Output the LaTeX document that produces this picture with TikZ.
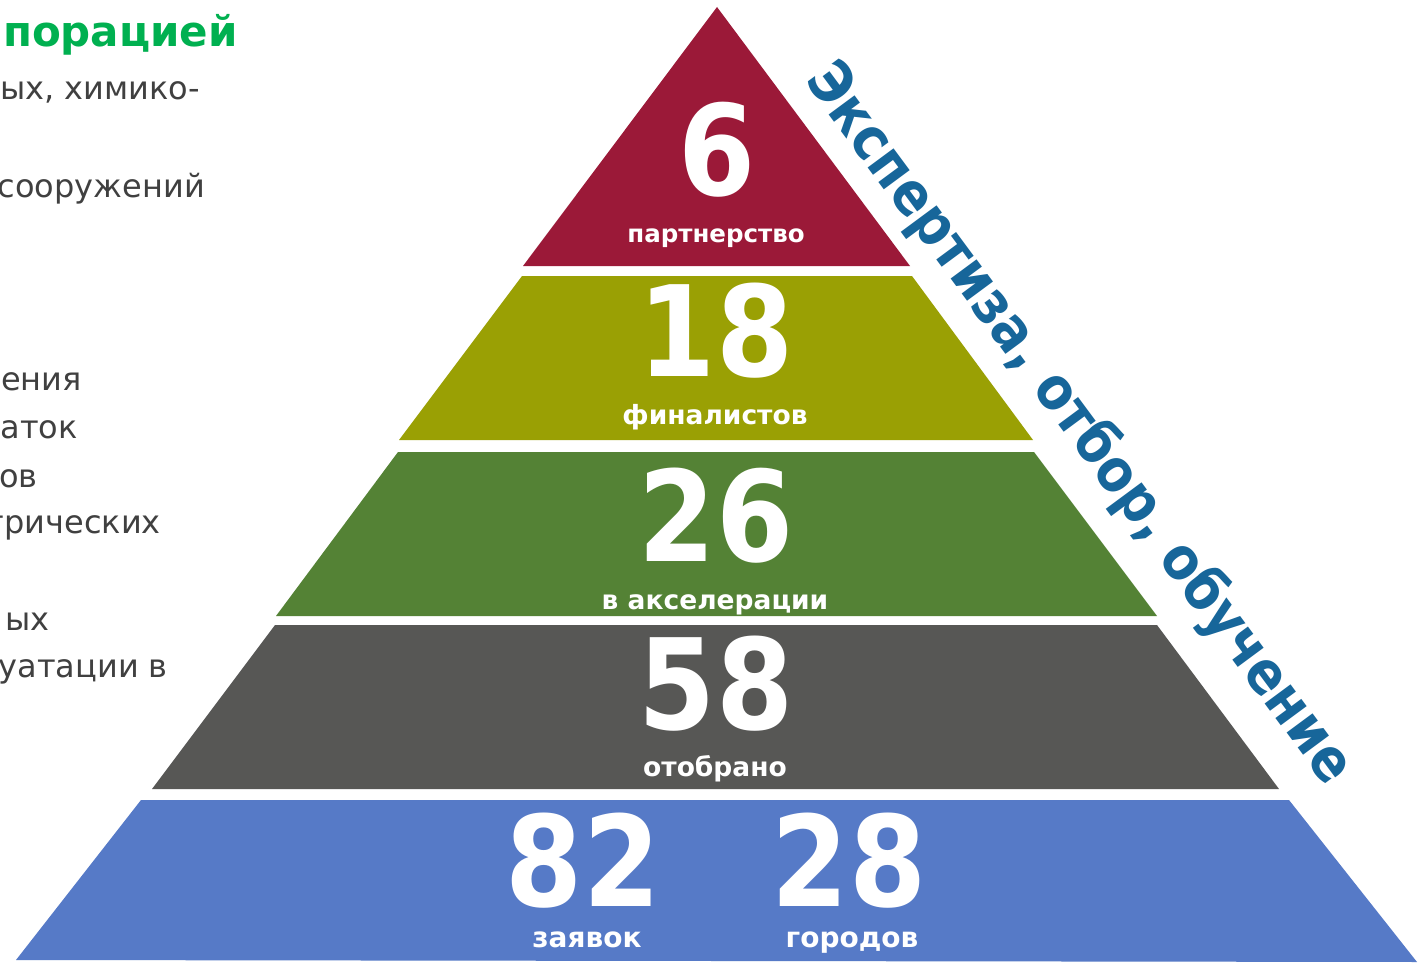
\documentclass[tikz,border=0pt]{standalone}
\usepackage{fontspec}
\setmainfont{DejaVu Sans}
\newfontfamily\narrowfont{DejaVu Sans}[FakeStretch=0.88]
\definecolor{cRed}{RGB}{155,25,56}
\definecolor{cOlive}{RGB}{154,160,4}
\definecolor{cGreen}{RGB}{84,130,53}
\definecolor{cGray}{RGB}{87,87,85}
\definecolor{cBlue}{RGB}{86,122,199}
\definecolor{cTitle}{RGB}{0,176,80}
\definecolor{cText}{RGB}{64,64,64}
\definecolor{cSide}{RGB}{23,102,154}
\tikzset{
  num/.style={anchor=base, inner sep=0pt, text=white, font=\narrowfont\bfseries\fontsize{126}{126}\selectfont},
  lab/.style={anchor=base, inner sep=0pt, text=white, font=\bfseries\fontsize{26.5}{26.5}\selectfont},
  side/.style={anchor=base east, inner sep=0pt, text=cText, font=\fontsize{32}{32}\selectfont},
}
\begin{document}
\begin{tikzpicture}[x=1pt,y=-1pt]
\clip (0,0) rectangle (1425,963);
\fill[white] (0,0) rectangle (1425,963);
% pyramid bands
\fill[cRed] (717,7) -- (910,266) -- (523,266) -- cycle;
\fill[cOlive] (522,276) -- (912,276) -- (1033,440) -- (399,440) -- cycle;
\fill[cGreen] (398,452) -- (1034,452) -- (1157,616) -- (276,616) -- cycle;
\fill[cGray] (275,625) -- (1157,625) -- (1279,789) -- (152,789) -- cycle;
\fill[cBlue] (141,800) -- (1289,800) -- (1417,962) -- (16,960) -- cycle;
% numbers and labels
\node[num] (n6) at (717,195) {6};
\node[lab, font=\bfseries\fontsize{24.5}{24.5}\selectfont] (l6) at (716,242) {партнерство};
\node[num] (n18) at (716,376) {18};
\node[lab] (l18) at (715,424) {финалистов};
\node[num] (n26) at (716,561) {26};
\node[lab] (l26) at (715,609) {в акселерации};
\node[num] (n58) at (716,729) {58};
\node[lab] (l58) at (715,776) {отобрано};
\node[num] (n82) at (583,906) {82};
\node[lab, font=\bfseries\fontsize{28}{28}\selectfont] (l82) at (587,947) {заявок};
\node[num] (n28) at (849,906) {28};
\node[lab, font=\bfseries\fontsize{28}{28}\selectfont] (l28) at (852,947) {городов};
% side label
\node[inner sep=0pt, rotate=-53.5, text=cSide, font=\narrowfont\bfseries\fontsize{59}{59}\selectfont] (sidelab) at (1079,424) {Экспертиза, отбор, обучение};
% clipped left text
\node[anchor=base east, inner sep=0pt, text=cTitle, font=\bfseries\fontsize{42}{42}\selectfont] (t0) at (238,47) {порацией};
\node[side] (t1) at (200,100) {ых, химико-};
\node[side] (t2) at (205,197) {сооружений};
\node[side] (t3) at (82,390) {ения};
\node[side] (t4) at (78,438) {аток};
\node[side] (t5) at (38,487) {ов};
\node[side] (t6) at (161,533) {трических};
\node[side] (t7) at (50,630) {ых};
\node[side] (t8) at (168,677) {уатации в};
\end{tikzpicture}
\end{document}
